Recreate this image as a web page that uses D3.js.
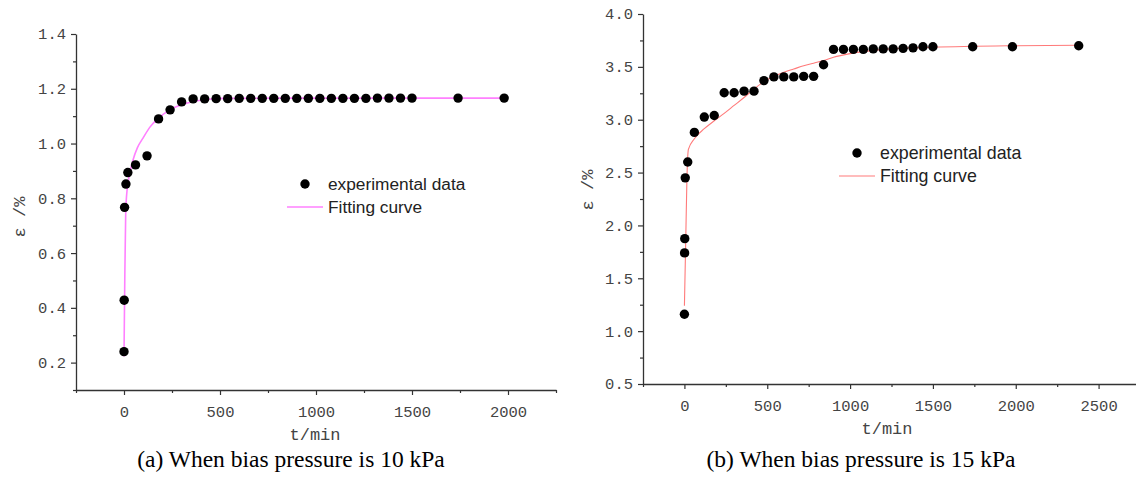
<!DOCTYPE html>
<html>
<head>
<meta charset="utf-8">
<script src="https://cdn.jsdelivr.net/npm/d3@7"></script>
<style>
  body { margin: 0; background: #fff; }
  svg { display: block; }
</style>
</head>
<body>
<div id="chart"></div>
<script>
// ---- data ----
// (a) bias pressure 10 kPa
const tA = [0, 1, 3, 10, 20, 60, 120, 180, 240, 300,
  360, 420, 480, 540, 600, 660, 720, 780, 840, 900, 960, 1020, 1080, 1140, 1200, 1260, 1320, 1380, 1440, 1500,
  1740, 1980];
const epsA = [0.24, 0.428, 0.767, 0.852, 0.894, 0.922, 0.955, 1.09, 1.123, 1.152,
  1.163, 1.163, 1.164, 1.164, 1.165, 1.165, 1.165, 1.165, 1.165, 1.165, 1.165, 1.165, 1.165, 1.165, 1.165, 1.165, 1.166, 1.166, 1.166, 1.166,
  1.166, 1.166];
const fitTA = [0, 4, 9, 16, 30, 47, 70, 99, 135, 169, 238, 325, 429, 533, 800, 1200, 1600, 1980];
const fitA = [0.222, 0.50, 0.75, 0.83, 0.89, 0.94, 0.985, 1.02, 1.06, 1.086, 1.123, 1.147, 1.161, 1.165, 1.166, 1.166, 1.166, 1.166];

// (b) bias pressure 15 kPa
const tB = [0, 1, 2, 5, 20, 60, 120, 180, 240, 300, 360, 420, 480,
  540, 600, 660, 720, 780, 840,
  900, 960, 1020, 1080, 1140, 1200, 1260, 1320, 1380, 1440, 1500,
  1740, 1980, 2380];
const epsB = [1.16, 1.74, 1.875, 2.45, 2.60, 2.88, 3.025, 3.04, 3.255, 3.255, 3.27, 3.27, 3.37,
  3.405, 3.405, 3.405, 3.41, 3.41, 3.52,
  3.665, 3.665, 3.665, 3.665, 3.67, 3.67, 3.67, 3.675, 3.68, 3.69, 3.69,
  3.69, 3.69, 3.70];
const fitTB = [0, 8, 15, 24, 60, 120, 180, 240, 300, 360, 420, 480, 540, 600, 660, 720, 780, 840, 900, 1000, 1200, 1500, 2000, 2380];
const fitB = [1.24, 1.86, 2.43, 2.72, 2.82, 2.915, 2.99, 3.06, 3.135, 3.21, 3.29, 3.36, 3.41, 3.45, 3.48, 3.51, 3.535, 3.56, 3.59, 3.625, 3.665, 3.685, 3.70, 3.705];

const yTicksA = [0.2, 0.4, 0.6, 0.8, 1.0, 1.2, 1.4];
const yTicksB = [0.5, 1.0, 1.5, 2.0, 2.5, 3.0, 3.5, 4.0];
const xTicksA = [0, 500, 1000, 1500, 2000];
const xTicksB = [0, 500, 1000, 1500, 2000, 2500];

const W = 1136, H = 481;
const svg = d3.select("#chart").append("svg")
  .attr("width", W)
  .attr("height", H);

const monoFont = "'Liberation Mono', 'DejaVu Sans Mono', monospace";

let drawPanel = (p) => {
  const x = d3.scaleLinear().domain(p.xDomain).range(p.xRange);
  const y = d3.scaleLinear().domain(p.yDomain).range(p.yRange);
  const g = svg.append("g");

  // minor ticks
  const minorX = d3.range(p.xDomain[0], p.xDomain[1] + 1, p.xMinor).filter(v => !p.xTicks.includes(v));
  const minorY = d3.range(p.yDomain[0], p.yDomain[1] + 1e-9, p.yMinor)
    .map(v => +v.toFixed(3)).filter(v => !p.yTicks.some(t => Math.abs(t - v) < 1e-6));

  g.append("g")
    .attr("transform", `translate(0,${p.yRange[0]})`)
    .call(d3.axisBottom(x).tickValues(minorX).tickSize(3).tickFormat(""))
    .call(a => a.select(".domain").remove());
  g.append("g")
    .attr("transform", `translate(${p.xRange[0]},0)`)
    .call(d3.axisLeft(y).tickValues(minorY).tickSize(3).tickFormat(""))
    .call(a => a.select(".domain").remove());

  // major axes
  g.append("g")
    .attr("transform", `translate(0,${p.yRange[0]})`)
    .call(d3.axisBottom(x).tickValues(p.xTicks).tickSize(5).tickSizeOuter(0).tickPadding(11).tickFormat(d3.format("d")));
  g.append("g")
    .attr("transform", `translate(${p.xRange[0]},0)`)
    .call(d3.axisLeft(y).tickValues(p.yTicks).tickSize(5).tickSizeOuter(0).tickPadding(5).tickFormat(d3.format(".1f")));

  g.selectAll(".tick line").attr("stroke", "#333").attr("stroke-width", 1.2);
  g.selectAll(".domain").attr("stroke", "#333").attr("stroke-width", 1.3);
  g.selectAll(".tick text")
    .attr("font-family", monoFont)
    .attr("font-size", 15.5)
    .attr("fill", "#444");

  // axis titles
  g.append("text")
    .attr("x", p.xTitleX)
    .attr("y", p.yRange[0] + 50)
    .attr("text-anchor", "middle")
    .attr("font-family", monoFont)
    .attr("font-size", 17)
    .attr("fill", "#444")
    .text("t/min");

  g.append("text")
    .attr("transform", `translate(${p.yTitleX},${p.yTitleY}) rotate(-90)`)
    .attr("text-anchor", "middle")
    .attr("dy", "0.35em")
    .attr("font-family", monoFont)
    .attr("font-size", 17)
    .attr("fill", "#444")
    .text("ε /%");

  // fitting curve
  const line = d3.line()
    .x((d, i) => x(p.fitT[i]))
    .y(d => y(d))
    .curve(d3.curveMonotoneX);
  g.append("path")
    .datum(p.fit)
    .attr("fill", "none")
    .attr("stroke", p.curveColor)
    .attr("stroke-width", p.curveWidth)
    .attr("d", line);

  // experimental points
  g.append("g").selectAll("circle")
    .data(p.eps)
    .join("circle")
    .attr("cx", (d, i) => x(p.t[i]))
    .attr("cy", d => y(d))
    .attr("r", 4.7)
    .attr("fill", "#000");

  // legend
  const lg = g.append("g").attr("transform", `translate(${p.legend[0]},${p.legend[1]})`);
  lg.append("circle").attr("cx", 0).attr("cy", 0).attr("r", 4.7).attr("fill", "#000");
  lg.append("text")
    .attr("x", 23).attr("y", 0).attr("dy", "0.35em")
    .attr("font-family", "'Liberation Sans', Arial, sans-serif")
    .attr("font-size", p.legendSize)
    .attr("fill", "#222")
    .text("experimental data");
  lg.append("line")
    .attr("x1", -18).attr("x2", 18).attr("y1", 23).attr("y2", 23)
    .attr("stroke", p.curveColor).attr("stroke-width", p.curveWidth);
  lg.append("text")
    .attr("x", 23).attr("y", 23).attr("dy", "0.35em")
    .attr("font-family", "'Liberation Sans', Arial, sans-serif")
    .attr("font-size", p.legendSize)
    .attr("fill", "#222")
    .text("Fitting curve");

  // caption
  svg.append("text")
    .attr("x", p.captionX)
    .attr("y", 467)
    .attr("text-anchor", "middle")
    .attr("font-family", "'Liberation Serif', 'Times New Roman', serif")
    .attr("font-size", 23.5)
    .attr("fill", "#000")
    .text(p.caption);
};

drawPanel({
  t: tA, eps: epsA, fitT: fitTA, fit: fitA,
  xDomain: [-250, 2250], xRange: [76, 556], xTicks: xTicksA, xMinor: 250,
  yDomain: [0.1, 1.4], yRange: [390, 34], yTicks: yTicksA, yMinor: 0.1,
  curveColor: "#ff80ff", curveWidth: 1.6,
  xTitleX: 315, yTitleX: 19, yTitleY: 217,
  legend: [305, 184], legendSize: 17.3,
  captionX: 291, caption: "(a) When bias pressure is 10 kPa"
});

drawPanel({
  t: tB, eps: epsB, fitT: fitTB, fit: fitB,
  xDomain: [-250, 2750], xRange: [643, 1140], xTicks: xTicksB, xMinor: 250,
  yDomain: [0.5, 4.0], yRange: [384, 14], yTicks: yTicksB, yMinor: 0.25,
  curveColor: "#ff7a7a", curveWidth: 1.1,
  xTitleX: 887, yTitleX: 587, yTitleY: 190,
  legend: [857, 153], legendSize: 17.8,
  captionX: 861, caption: "(b) When bias pressure is 15 kPa"
});
</script>
</body>
</html>
